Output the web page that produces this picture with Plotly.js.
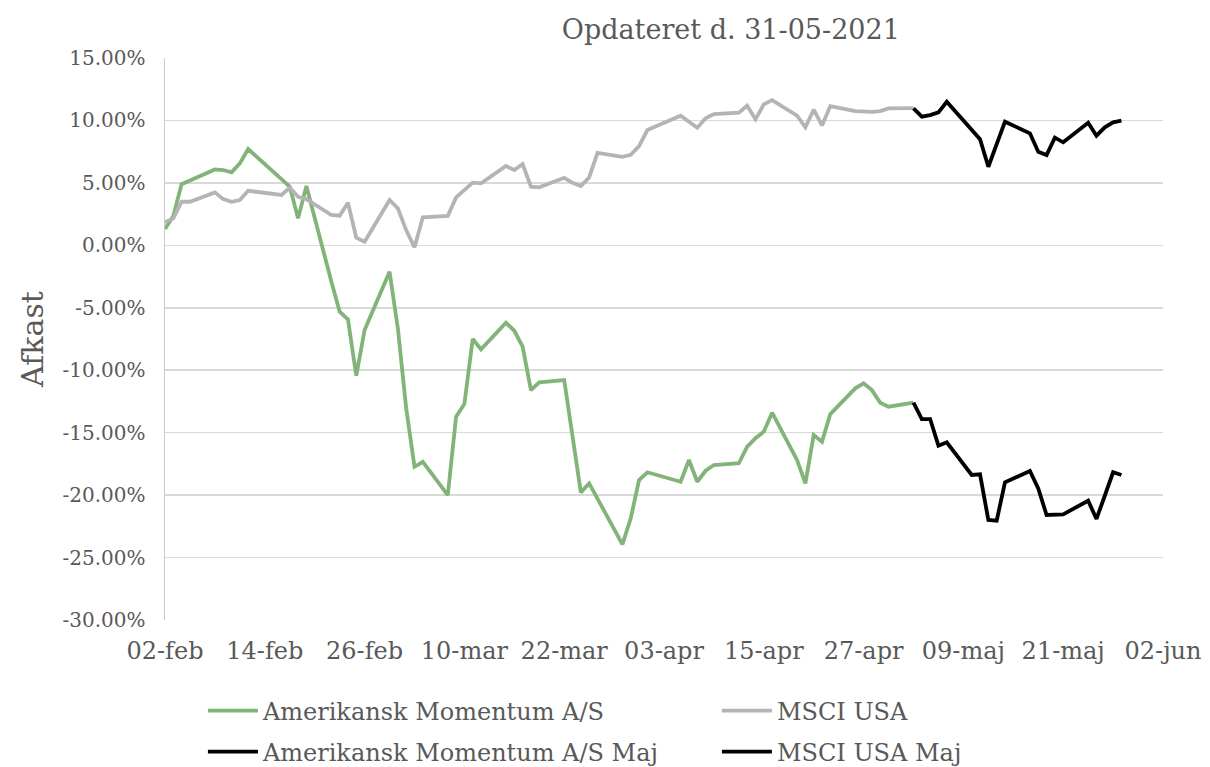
<!DOCTYPE html>
<html>
<head>
<meta charset="utf-8">
<script src="https://cdn.plot.ly/plotly-3.0.1.min.js"></script>
<style>html,body{margin:0;padding:0;background:#fff;}#chart{width:1210px;height:767px;}</style>
</head>
<body>
<div id="chart"></div>
<script>
const dates = ['2021-02-02','2021-02-03','2021-02-04','2021-02-05','2021-02-08','2021-02-09','2021-02-10','2021-02-11','2021-02-12',
  '2021-02-16','2021-02-17','2021-02-18','2021-02-19','2021-02-22','2021-02-23','2021-02-24','2021-02-25','2021-02-26',
  '2021-03-01','2021-03-02','2021-03-03','2021-03-04','2021-03-05','2021-03-08','2021-03-09','2021-03-10','2021-03-11','2021-03-12',
  '2021-03-15','2021-03-16','2021-03-17','2021-03-18','2021-03-19','2021-03-22','2021-03-23','2021-03-24','2021-03-25','2021-03-26',
  '2021-03-29','2021-03-30','2021-03-31','2021-04-01','2021-04-05','2021-04-06','2021-04-07','2021-04-08','2021-04-09',
  '2021-04-12','2021-04-13','2021-04-14','2021-04-15','2021-04-16','2021-04-19','2021-04-20','2021-04-21','2021-04-22','2021-04-23',
  '2021-04-26','2021-04-27','2021-04-28','2021-04-29','2021-04-30','2021-05-03'];

const amerikansk = [1.3,2.35,4.9,5.2,6.08,6.03,5.84,6.56,7.71,
  5.3,4.7,2.16,4.75,-2.9,-5.31,-5.93,-10.44,-6.78,
  -2.11,-6.65,-13.05,-17.73,-17.33,-20.0,-13.72,-12.7,-7.5,-8.33,
  -6.2,-6.84,-8.12,-11.59,-10.97,-10.79,-15.3,-19.78,-19.06,-20.3,
  -23.94,-21.86,-18.79,-18.17,-18.93,-17.19,-18.93,-18.05,-17.59,
  -17.45,-16.12,-15.45,-14.92,-13.4,-17.19,-19.06,-15.19,-15.72,-13.51,
  -11.45,-11.05,-11.59,-12.6,-12.92,-12.6];

const msciUsa = [1.84,2.16,3.49,3.49,4.24,3.7,3.49,3.63,4.37,
  4.03,4.61,3.89,3.7,2.43,2.37,3.41,0.61,0.29,
  3.63,2.96,1.22,-0.16,2.24,2.35,3.84,4.45,5.02,4.96,
  6.35,6.03,6.51,4.69,4.64,5.41,5.01,4.75,5.44,7.41,
  7.09,7.25,7.95,9.23,10.38,9.9,9.42,10.17,10.51,
  10.62,11.18,10.09,11.29,11.63,10.38,9.45,10.86,9.6,11.15,
  10.75,10.68,10.68,10.75,10.97,10.99];

const majDates = ['2021-05-03','2021-05-04','2021-05-05','2021-05-06','2021-05-07','2021-05-10','2021-05-11','2021-05-12','2021-05-13','2021-05-14',
  '2021-05-17','2021-05-18','2021-05-19','2021-05-20','2021-05-21','2021-05-24','2021-05-25','2021-05-26','2021-05-27','2021-05-28'];

const amerikanskMaj = [-12.6,-13.91,-13.91,-16.04,-15.77,-18.39,-18.34,-21.99,-22.05,-18.98,
  -18.07,-19.46,-21.59,-21.57,-21.54,-20.45,-21.91,-20.05,-18.17,-18.39];

const msciUsaMaj = [10.96,10.3,10.43,10.65,11.5,9.25,8.49,6.29,8.1,9.9,
  8.97,7.49,7.23,8.62,8.25,9.82,8.78,9.45,9.85,9.98];

const seriesNames = ['Amerikansk Momentum A/S','MSCI USA','Amerikansk Momentum A/S Maj','MSCI USA Maj'];

const yTickVals = [15,10,5,0,-5,-10,-15,-20,-25,-30];
const yTickText = ['15.00%','10.00%','5.00%','0.00%','-5.00%','-10.00%','-15.00%','-20.00%','-25.00%','-30.00%'];

const xTickVals = ['2021-02-02','2021-02-14','2021-02-26','2021-03-10','2021-03-22','2021-04-03','2021-04-15','2021-04-27','2021-05-09','2021-05-21','2021-06-02'];
const xTickText = ['02-feb','14-feb','26-feb','10-mar','22-mar','03-apr','15-apr','27-apr','09-maj','21-maj','02-jun'];

const FONT = 'DejaVu Serif, Liberation Serif, serif';
const GREY_TXT = '#595959';

const traces = [
  {x: dates, y: amerikansk, name: seriesNames[0], type: 'scatter', mode: 'lines',
   line: {color: '#82b479', width: 3.8}, legend: 'legend'},
  {x: dates, y: msciUsa, name: seriesNames[1], type: 'scatter', mode: 'lines',
   line: {color: '#b4b4b4', width: 3.8}, legend: 'legend2'},
  {x: majDates, y: amerikanskMaj, name: seriesNames[2], type: 'scatter', mode: 'lines',
   line: {color: '#000000', width: 3.8}, legend: 'legend3'},
  {x: majDates, y: msciUsaMaj, name: seriesNames[3], type: 'scatter', mode: 'lines',
   line: {color: '#000000', width: 3.8}, legend: 'legend4'}
];

const legendCommon = {
  orientation: 'h', xref: 'paper', yref: 'paper', xanchor: 'left', yanchor: 'middle',
  font: {family: FONT, size: 24, color: GREY_TXT}, itemwidth: 50,
  bgcolor: 'rgba(0,0,0,0)'
};

const layout = {
  width: 1210, height: 767,
  margin: {l: 165, r: 47, t: 58, b: 147, autoexpand: false},
  paper_bgcolor: '#ffffff', plot_bgcolor: '#ffffff',
  title: {text: 'Opdateret d. 31-05-2021', font: {family: FONT, size: 27, color: GREY_TXT},
          x: 0.604, xref: 'container', xanchor: 'center', y: 0.961, yref: 'container', yanchor: 'middle'},
  xaxis: {type: 'date', range: ['2021-02-02', '2021-06-02'], tickvals: xTickVals, ticktext: xTickText,
          showgrid: false, zeroline: false, showline: false, ticks: '',
          tickfont: {family: FONT, size: 24, color: GREY_TXT}, ticklabelstandoff: 14},
  yaxis: {range: [-30, 15], tickvals: yTickVals, ticktext: yTickText,
          showgrid: true, gridcolor: '#d9d9d9', gridwidth: 1.5, zeroline: false,
          showline: true, linecolor: '#c8c8c8', linewidth: 1.5, ticks: '',
          tickfont: {family: FONT, size: 20, color: GREY_TXT}, ticklabelstandoff: 14,
          title: {text: 'Afkast', font: {family: FONT, size: 30, color: GREY_TXT}, standoff: 10}},
  showlegend: true,
  legend: Object.assign({}, legendCommon, {x: 0.038, y: -0.162}),
  legend2: Object.assign({}, legendCommon, {x: 0.553, y: -0.162}),
  legend3: Object.assign({}, legendCommon, {x: 0.038, y: -0.235}),
  legend4: Object.assign({}, legendCommon, {x: 0.553, y: -0.235})
};

Plotly.newPlot('chart', traces, layout, {displayModeBar: false, staticPlot: true});
</script>
</body>
</html>
